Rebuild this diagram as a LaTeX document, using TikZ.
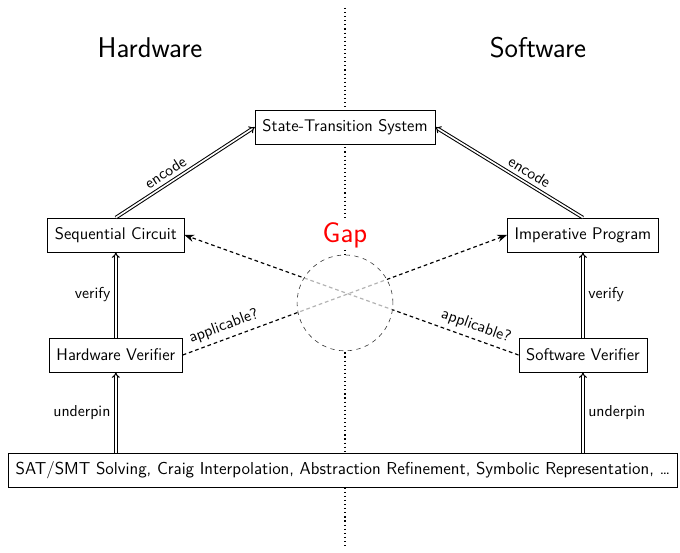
\documentclass[tikz,border=0pt]{standalone}
\usepackage{xcolor}
\usepackage{tikz}
\usetikzlibrary{arrows.meta,positioning,calc,backgrounds}

\begin{document}
\begin{tikzpicture}[
  font=\sffamily\fontsize{11.5}{14}\selectfont,
  box/.style={draw, fill=white, align=center, inner xsep=5pt, minimum height=8.2mm},
  head/.style={font=\sffamily\fontsize{19.5}{23}\selectfont},
  dbl/.style={double, line width=0.7pt, double distance=1.1pt, -{Implies}},
  link/.style={dash pattern=on 2.5pt off 2pt, thick, -{Stealth}},
  lbl/.style={font=\sffamily\fontsize{10.8}{13}\selectfont},
  ring/.style={circle, minimum size=2.3cm, fill=white}
]
\useasboundingbox (0,0) rectangle (16.32,13.25);
\coordinate (top) at (8.28,13.06);
\coordinate (bot) at (8.28,0.1);
\draw[dotted, thick] (top) -- (bot);

\node[head] (hw) at (3.6,12.1) {Hardware};
\node[head] (sw) at (12.91,12.1) {Software};

\node[box] (sts) at (8.28,10.2) {State-Transition System};
\node[box] (sc) at (2.78,7.61) {Sequential Circuit};
\node[box] (ip) at (13.99,7.61) {Imperative Program};
\node[box] (hv) at (2.78,4.73) {Hardware Verifier};
\node[box] (sv) at (13.99,4.73) {Software Verifier};
\node[box, font=\sffamily\fontsize{11.8}{14}\selectfont] (base) at (8.23,1.97) {SAT/SMT Solving, Craig Interpolation, Abstraction Refinement, Symbolic Representation, \dots};

\node[ring] (gap) at (8.28,5.98) {};
\node[head, text=red, fill=white, inner sep=1pt] (gaplbl) at (8.28,7.61) {Gap};

\draw[dbl] (sc.north) -- node[lbl, sloped, above, pos=0.4] {encode} (sts.west);
\draw[dbl] (ip.north) -- node[lbl, sloped, above, pos=0.4] {encode} (sts.east);
\draw[dbl] (hv) -- node[lbl, left] {verify} (sc);
\draw[dbl] (sv) -- node[lbl, right] {verify} (ip);
\draw[dbl] (base.north -| hv) -- node[lbl, left] {underpin} (hv);
\draw[dbl] (base.north -| sv) -- node[lbl, right] {underpin} (sv);

\draw[link] (hv.east) -- node[lbl, sloped, above, pos=0.14] {applicable?} (ip.west);
\draw[link] (sv.west) -- node[lbl, sloped, above, pos=0.14] {applicable?} (sc.east);

\node[ring, fill opacity=0.7, draw=black!80, draw opacity=1, dashed, thin] at (gap) {};
\end{tikzpicture}
\end{document}
